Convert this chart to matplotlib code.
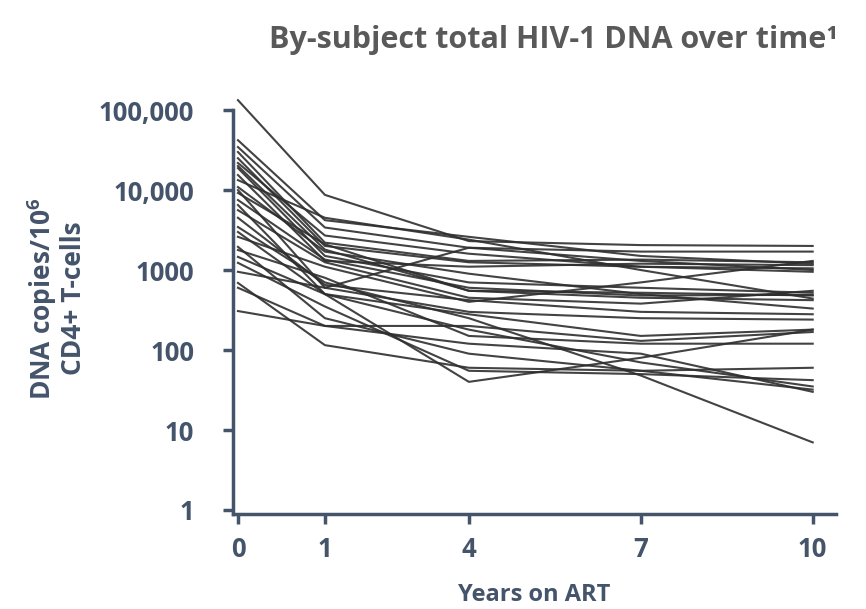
import matplotlib
matplotlib.use("Agg")
import matplotlib.pyplot as plt
import numpy as np

# years on ART at which total HIV-1 DNA was measured
years = [0, 1, 4, 7, 10]
year_labels = ["0", "1", "4", "7", "10"]

# DNA copies per 10^6 CD4+ T-cells, one row per subject
subjects = [
    [133000, 8700, 2300, 2050, 2000],
    [42000, 4200, 2600, 1500, 1200],
    [34500, 3400, 1900, 1700, 1700],
    [29900, 2200, 1300, 1350, 1250],
    [25000, 2000, 1250, 1100, 950],
    [21800, 2700, 1600, 1100, 1050],
    [20000, 1800, 550, 520, 480],
    [18800, 1500, 700, 600, 520],
    [15400, 1300, 1100, 1200, 1150],
    [13300, 4500, 2400, 1000, 440],
    [10900, 1700, 900, 500, 330],
    [10000, 600, 1900, 1300, 1000],
    [9200, 2100, 550, 450, 420],
    [7500, 1350, 600, 480, 490],
    [6500, 500, 180, 70, 35],
    [5600, 1250, 450, 380, 550],
    [4500, 650, 420, 300, 280],
    [3450, 700, 250, 48, 7],
    [2990, 500, 280, 150, 180],
    [2600, 1100, 400, 700, 1300],
    [1950, 250, 90, 55, 60],
    [1780, 800, 150, 120, 120],
    [1460, 500, 40, 80, 180],
    [1230, 350, 55, 50, 42],
    [950, 600, 300, 250, 240],
    [690, 115, 60, 55, 32],
    [600, 200, 120, 90, 30],
    [307, 200, 200, 130, 168],
]

y_ticks = [1, 10, 100, 1000, 10000, 100000]
y_labels = ["1", "10", "100", "1000", "10,000", "100,000"]

axis_col = "#44546a"
plt.rcParams["font.family"] = ["Open Sans", "DejaVu Sans"]
plt.rcParams["font.weight"] = "bold"
plt.rcParams["mathtext.fontset"] = "custom"
plt.rcParams["mathtext.rm"] = "Open Sans:bold"
plt.rcParams["mathtext.bf"] = "Open Sans:bold"

# uneven spacing of the time axis
yr_pts = [-10, 0, 1, 4, 7, 10, 20]
px_pts = [-870, 0, 87, 231, 403, 575, 1148]

def fwd(x):
    return np.interp(x, yr_pts, px_pts)

def inv(p):
    return np.interp(p, px_pts, yr_pts)

fig = plt.figure(figsize=(8.66, 6.09), dpi=100)
ax = fig.add_axes([0.269, 0.156, 0.696, 0.683])
ax.set_xscale("function", functions=(fwd, inv))
ax.set_yscale("log")

for row in subjects:
    ax.plot(years, row, color="#2e2e2e", lw=1.5, alpha=0.9, clip_on=False)

ax.set_xlim(inv(-5), inv(598))
ax.set_ylim(10 ** -0.05, 10 ** 5.15)

for side in ["top", "right"]:
    ax.spines[side].set_visible(False)
for side in ["left", "bottom"]:
    ax.spines[side].set_color(axis_col)
    ax.spines[side].set_linewidth(2.5)
ax.spines["left"].set_bounds(10 ** -0.05, 100000)

ax.set_xticks(years, year_labels)
ax.set_yticks(y_ticks, y_labels)
ax.minorticks_off()
ax.tick_params(axis="both", colors=axis_col, width=2.5, length=7,
               labelsize=18.5)
ax.tick_params(axis="y", pad=21)
ax.tick_params(axis="x", pad=9)
for lab in ax.get_xticklabels() + ax.get_yticklabels():
    lab.set_fontweight("bold")

ax.set_xlabel("Years on ART", fontsize=17, color=axis_col,
              fontweight="bold", labelpad=14)
fig.text(0.065, 0.51, "DNA copies/10$^{6}$\nCD4+ T-cells", rotation=90,
         ha="center", va="center", fontsize=19, color=axis_col,
         fontweight="bold", linespacing=1.05)

fig.text(0.968, 0.934, "By-subject total HIV-1 DNA over time¹", ha="right",
         va="center", fontsize=22, color="#595959", fontweight="bold")

fig.savefig("out.png", dpi=100)
